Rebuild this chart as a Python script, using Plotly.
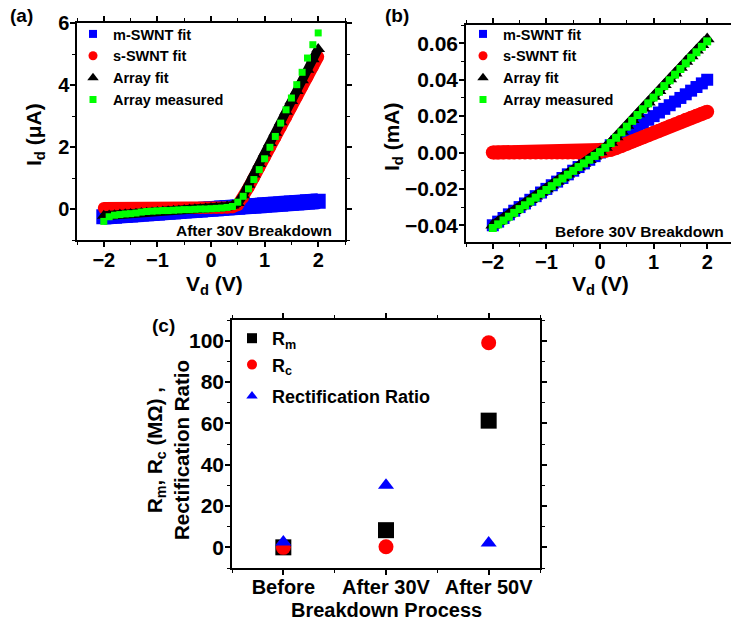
import plotly.graph_objects as go

F = "Liberation Sans"

# ---------------- data ----------------
V = [-2.0, -1.9, -1.8, -1.7, -1.6, -1.5, -1.4, -1.3, -1.2, -1.1, -1.0,
     -0.9, -0.8, -0.7, -0.6, -0.5, -0.4, -0.3, -0.2, -0.1, 0.0,
     0.1, 0.2, 0.3, 0.4, 0.5, 0.6, 0.7, 0.8, 0.9, 1.0,
     1.1, 1.2, 1.3, 1.4, 1.5, 1.6, 1.7, 1.8, 1.9, 2.0]

# (a) After 30V breakdown, current in uA
a_m_fit = [-0.25, -0.24, -0.23, -0.21, -0.20, -0.19, -0.18, -0.16, -0.15, -0.14, -0.13,
           -0.11, -0.10, -0.09, -0.08, -0.06, -0.05, -0.04, -0.03, -0.01, 0.00,
           0.01, 0.03, 0.04, 0.05, 0.06, 0.08, 0.09, 0.10, 0.11, 0.13,
           0.14, 0.15, 0.16, 0.18, 0.19, 0.20, 0.21, 0.23, 0.24, 0.25]
a_s_fit = [0.03, 0.03, 0.03, 0.03, 0.03, 0.03, 0.03, 0.03, 0.03, 0.03, 0.03,
           0.03, 0.03, 0.03, 0.03, 0.03, 0.03, 0.03, 0.03, 0.03, 0.03,
           0.03, 0.03, 0.04, 0.06, 0.13, 0.36, 0.69, 1.01, 1.34, 1.66,
           1.99, 2.31, 2.64, 2.96, 3.29, 3.61, 3.94, 4.26, 4.59, 4.91]
a_array_fit = [-0.22, -0.21, -0.20, -0.18, -0.17, -0.16, -0.15, -0.13, -0.12, -0.11, -0.10,
               -0.08, -0.07, -0.06, -0.05, -0.03, -0.02, -0.01, 0.00, 0.02, 0.03,
               0.04, 0.06, 0.08, 0.11, 0.19, 0.44, 0.78, 1.11, 1.45, 1.79,
               2.13, 2.46, 2.80, 3.14, 3.48, 3.81, 4.15, 4.49, 4.83, 5.16]
a_array_meas = [-0.40, -0.25, -0.20, -0.18, -0.16, -0.15, -0.13, -0.10, -0.08, -0.07, -0.06,
                -0.05, -0.05, -0.04, -0.03, -0.02, -0.02, -0.01, 0.00, 0.00, 0.01,
                0.02, 0.03, 0.05, 0.08, 0.22, 0.41, 0.65, 0.95, 1.27, 1.62,
                1.99, 2.34, 2.77, 3.20, 3.58, 4.01, 4.41, 4.87, 5.30, 5.68]

# (b) Before 30V breakdown, current in mA
b_m_fit = [-0.040, -0.038, -0.036, -0.034, -0.032, -0.030, -0.028, -0.026, -0.024, -0.022, -0.020,
           -0.018, -0.016, -0.014, -0.012, -0.010, -0.008, -0.006, -0.004, -0.002, 0.000,
           0.002, 0.004, 0.006, 0.008, 0.010, 0.012, 0.014, 0.016, 0.018, 0.020,
           0.022, 0.024, 0.026, 0.028, 0.030, 0.032, 0.034, 0.036, 0.038, 0.040]
b_s_fit = [0.0, 0.0, 0.0, 0.0, 0.0, 0.0, 0.0, 0.0, 0.0, 0.0, 0.0,
           0.0, 0.0, 0.0, 0.0, 0.0, 0.0, 0.0, 0.0, 0.0, 0.0003,
           0.0008, 0.0015, 0.0025, 0.0036, 0.0048, 0.0060, 0.0072, 0.0084, 0.0096, 0.0108,
           0.0120, 0.0132, 0.0144, 0.0156, 0.0168, 0.0180, 0.0191, 0.0202, 0.0213, 0.0224]
b_array_fit = [-0.040, -0.038, -0.036, -0.034, -0.032, -0.030, -0.028, -0.026, -0.024, -0.022, -0.020,
               -0.018, -0.016, -0.014, -0.012, -0.010, -0.008, -0.006, -0.004, -0.002, 0.0003,
               0.0028, 0.0055, 0.0085, 0.0116, 0.0148, 0.0180, 0.0212, 0.0244, 0.0276, 0.0308,
               0.0340, 0.0372, 0.0404, 0.0436, 0.0468, 0.0500, 0.0531, 0.0562, 0.0593, 0.0624]
b_array_meas = [-0.0415, -0.0395, -0.0374, -0.0353, -0.0332, -0.0311, -0.0290, -0.0269, -0.0248, -0.0227, -0.0206,
                -0.0185, -0.0164, -0.0143, -0.0122, -0.0101, -0.0080, -0.0060, -0.0040, -0.0019, 0.0002,
                0.0026, 0.0052, 0.0081, 0.0111, 0.0142, 0.0174, 0.0206, 0.0238, 0.0270, 0.0302,
                0.0334, 0.0365, 0.0397, 0.0428, 0.0459, 0.0490, 0.0521, 0.0551, 0.0581, 0.0611]

# (c) breakdown process
stages = ["Before", "After 30V", "After 50V"]
R_m = [0.0, 8.3, 61.3]
R_c = [0.0, 0.3, 99.0]
rect_ratio = [2.6, 30.0, 2.1]

legend_names = ["m-SWNT fit", "s-SWNT fit", "Array fit", "Array measured"]

# ---------------- styles ----------------
BLUE, RED, BLACK, GREEN = "#0000FF", "#FF0000", "#000000", "#00FF00"
W, H = 731, 623


def dom_x(l, r):
    return [l / W, r / W]


def dom_y(t, b):
    return [1 - b / H, 1 - t / H]


def bold(size):
    return dict(family=F, size=size, color="black", weight="bold")


def axis(size, **kw):
    d = dict(showline=True, linecolor="black", linewidth=1.5, mirror="allticks",
             ticks="outside", ticklen=5, tickwidth=1.5, tickcolor="black",
             showgrid=False, zeroline=False, tickfont=bold(size), automargin=False,
             minor=dict(ticks="outside", ticklen=3, tickwidth=1.2, tickcolor="black", showgrid=False))
    d.update(kw)
    return d


fig = go.Figure()

series_a = [a_m_fit, a_s_fit, a_array_fit, a_array_meas]
series_b = [b_m_fit, b_s_fit, b_array_fit, b_array_meas]
symbols = ["square", "circle", "triangle-up", "square"]
colors = [BLUE, RED, BLACK, GREEN]
sizes_a = [15, 12, 12, 7]
lines_a = [16, 12, 9, 0]
sizes_b = [12, 14, 13, 8]
lines_b = [10, 14, 9, 0]
legend_sizes = [8, 9, 10, 7]

for xa, ya, series, sizes, lws in [("x", "y", series_a, sizes_a, lines_a),
                                   ("x2", "y2", series_b, sizes_b, lines_b)]:
    for k, ys in enumerate(series):
        mode = "lines+markers" if lws[k] > 0 else "markers"
        fig.add_trace(go.Scatter(x=V, y=ys, mode=mode, xaxis=xa, yaxis=ya,
                                 line=dict(color=colors[k], width=max(lws[k], 1)),
                                 marker=dict(symbol=symbols[k], color=colors[k], size=sizes[k],
                                             line=dict(width=0)),
                                 showlegend=False, hoverinfo="skip"))

# legend entries for (a) and (b)
for lg, xa, ya in [("legend", "x", "y"), ("legend2", "x2", "y2")]:
    for k, name in enumerate(legend_names):
        fig.add_trace(go.Scatter(x=[None], y=[None], mode="markers", xaxis=xa, yaxis=ya, name=name,
                                 marker=dict(symbol=symbols[k], color=colors[k], size=legend_sizes[k]),
                                 legend=lg, showlegend=True))

# (c)
xc = list(range(len(stages)))
fig.add_trace(go.Scatter(x=xc, y=R_m, mode="markers", xaxis="x3", yaxis="y3", showlegend=False,
                         marker=dict(symbol="square", color=BLACK, size=16)))
fig.add_trace(go.Scatter(x=xc, y=R_c, mode="markers", xaxis="x3", yaxis="y3", showlegend=False,
                         marker=dict(symbol="circle", color=RED, size=15)))
fig.add_trace(go.Scatter(x=xc, y=rect_ratio, mode="markers", xaxis="x3", yaxis="y3", showlegend=False,
                         marker=dict(symbol="triangle-up", color=BLUE, size=14)))
c_names = ["R<sub>m</sub>", "R<sub>c</sub>", "Rectification Ratio"]
c_sym = ["square", "circle", "triangle-up"]
c_col = [BLACK, RED, BLUE]
c_grp = ["r", "r", "q"]
for k in range(3):
    fig.add_trace(go.Scatter(x=[None], y=[None], mode="markers", xaxis="x3", yaxis="y3", name=c_names[k],
                             legendgroup=c_grp[k],
                             marker=dict(symbol=c_sym[k], color=c_col[k], size=10),
                             legend="legend3", showlegend=True))

fig.update_layout(
    width=W, height=H, margin=dict(l=0, r=0, t=0, b=0, autoexpand=False),
    paper_bgcolor="white", plot_bgcolor="white",
    font=dict(family=F, color="black"),
    xaxis=axis(20, domain=dom_x(77, 345), range=[-2.5, 2.5], dtick=1, anchor="y",
               ticklabelstandoff=-4),
    yaxis=axis(20, domain=dom_y(23, 240), range=[-1, 6], dtick=2, anchor="x",
               ticklabelstandoff=-3),
    xaxis2=axis(20, domain=dom_x(466, 731), range=[-2.5, 2.444], dtick=1, anchor="y2",
                ticklabelstandoff=-4),
    yaxis2=axis(21, domain=dom_y(25, 242), range=[-0.0492, 0.0701], dtick=0.02, tickformat=".2f",
                anchor="x2", mirror=False, ticklabelstandoff=-3),
    xaxis3=axis(20, domain=dom_x(232, 540), range=[-0.5, 2.5], tickmode="array", tickvals=xc,
                ticktext=stages, anchor="y3", ticklabelstandoff=-5),
    yaxis3=axis(21, domain=dom_y(320, 568), range=[-10, 110], dtick=20, anchor="x3",
                ticklabelstandoff=-3),
    legend=dict(x=73 / W, y=1 - 18 / H, xanchor="left", yanchor="top", bgcolor="rgba(0,0,0,0)",
                font=bold(14.5), itemsizing="trace"),
    legend2=dict(x=463 / W, y=1 - 18 / H, xanchor="left", yanchor="top", bgcolor="rgba(0,0,0,0)",
                 font=bold(14.5), itemsizing="trace"),
    legend3=dict(x=232 / W, y=1 - 320 / H, xanchor="left", yanchor="top", bgcolor="rgba(0,0,0,0)",
                 font=bold(18), itemsizing="trace", tracegroupgap=5),
)
fig.update_xaxes(minor_dtick=0.5)
fig.update_layout(yaxis_minor_dtick=1, yaxis2_minor_dtick=0.01, yaxis3_minor_dtick=10)


def paper_text(txt, px, py, size, angle=0, xanchor="center"):
    fig.add_annotation(text=txt, xref="paper", yref="paper", x=px / W, y=1 - py / H,
                       xanchor=xanchor, yanchor="middle", showarrow=False, textangle=angle,
                       font=bold(size))


# axis titles
paper_text("V<sub>d</sub> (V)", 214, 285, 21)
paper_text("I<sub>d</sub> (μA)", 35, 135, 21, angle=-90)
paper_text("V<sub>d</sub> (V)", 600, 285, 21)
paper_text("I<sub>d</sub> (mA)", 393, 137, 21, angle=-90)
paper_text("Breakdown Process", 386, 610, 20)
paper_text("R<sub>m</sub>, R<sub>c</sub> (MΩ) ,<br>Rectification Ratio", 168, 450, 20.5, angle=-90)

# panel labels
for txt, px, py in [("(a)", 8, 15), ("(b)", 383, 15), ("(c)", 150, 325)]:
    paper_text(txt, px, py, 19, xanchor="left")

# in-plot notes
ann_font = bold(15.5)
fig.add_annotation(text="After 30V Breakdown", xref="x domain", yref="y domain",
                   x=(334 - 77) / 268, y=(240 - 230) / 217, xanchor="right", yanchor="middle",
                   showarrow=False, font=ann_font)
fig.add_annotation(text="Before 30V Breakdown", xref="x2 domain", yref="y2 domain",
                   x=(726 - 466) / 265, y=(242 - 231) / 217, xanchor="right", yanchor="middle",
                   showarrow=False, font=ann_font)

fig.write_html("out.html")
